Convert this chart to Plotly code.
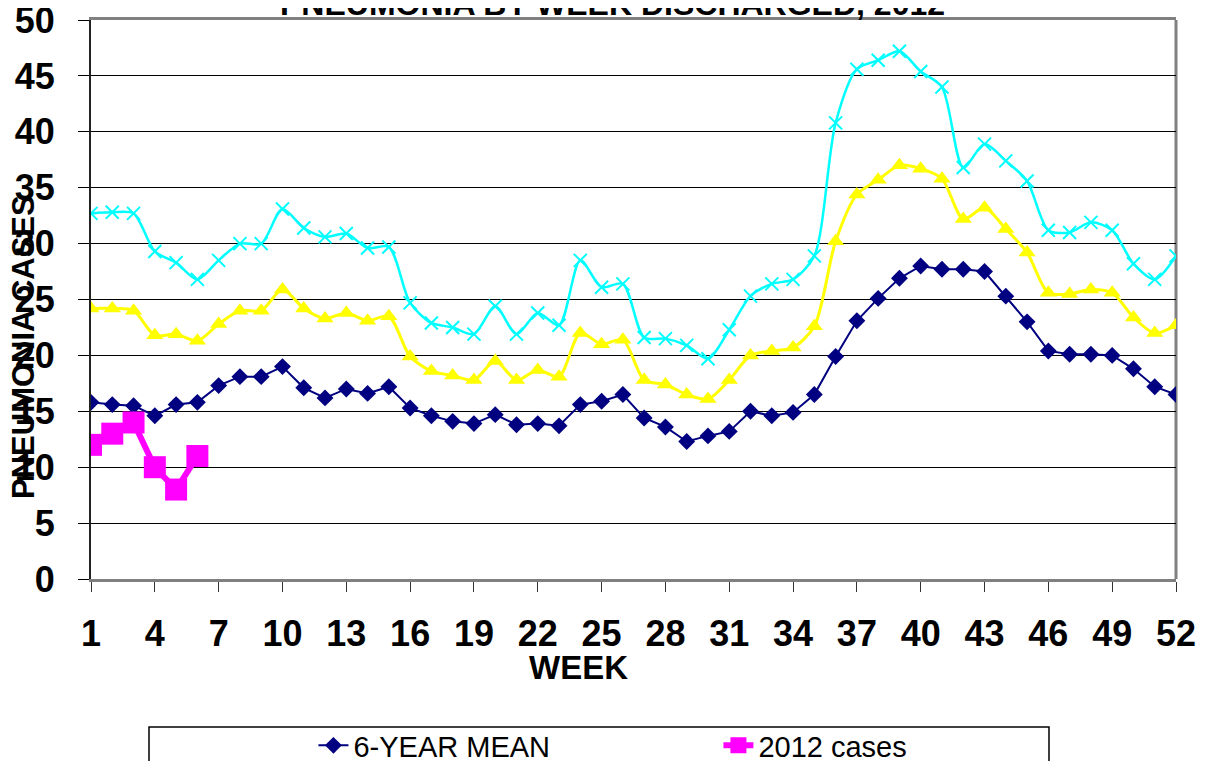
import plotly.graph_objects as go

weeks = list(range(1, 53))

mean_6yr = [15.8, 15.6, 15.5, 14.6, 15.6, 15.8, 17.3, 18.1, 18.1, 19.0,
            17.1, 16.2, 17.0, 16.6, 17.2, 15.3, 14.6, 14.1, 13.9, 14.7,
            13.8, 13.9, 13.7, 15.6, 15.9, 16.5, 14.4, 13.6, 12.3, 12.8,
            13.2, 15.0, 14.6, 14.9, 16.5, 19.9, 23.1, 25.1, 26.9, 28.0,
            27.7, 27.7, 27.5, 25.3, 23.0, 20.4, 20.1, 20.1, 20.0, 18.8,
            17.2, 16.5]

upper_1sd = [24.2, 24.2, 24.0, 21.8, 21.9, 21.3, 22.8, 24.0, 24.0, 25.9,
             24.2, 23.3, 23.8, 23.1, 23.5, 19.9, 18.6, 18.2, 17.8, 19.5,
             17.8, 18.7, 18.1, 22.0, 21.0, 21.4, 17.8, 17.4, 16.5, 16.1,
             17.8, 20.0, 20.4, 20.7, 22.6, 30.2, 34.4, 35.7, 37.0, 36.7,
             35.8, 32.2, 33.2, 31.3, 29.2, 25.6, 25.5, 25.9, 25.6, 23.4,
             22.0, 22.7]

upper_2sd = [32.7, 32.8, 32.7, 29.3, 28.3, 26.8, 28.5, 30.0, 30.0, 33.1,
             31.4, 30.6, 30.9, 29.6, 29.7, 24.7, 22.9, 22.5, 21.9, 24.4,
             21.9, 23.8, 22.7, 28.5, 26.1, 26.4, 21.6, 21.5, 20.9, 19.7,
             22.3, 25.3, 26.4, 26.8, 28.9, 40.8, 45.6, 46.4, 47.2, 45.4,
             44.0, 36.8, 38.9, 37.4, 35.6, 31.2, 31.0, 31.9, 31.2, 28.2,
             26.8, 28.9]

weeks_2012 = [1, 2, 3, 4, 5, 6]
cases_2012 = [12, 13, 14, 10, 8, 11]

x_tickvals = list(range(1, 53, 3))
y_tickvals = list(range(0, 51, 5))

FONT = "Liberation Sans, Arial, sans-serif"

# page offset of the plot div (default body margin)
OFF = 8
W, H = 1205 - OFF, 761 - OFF
L, R, T, B = 91 - OFF, 29, 20 - OFF, 182
PW = W - L - R   # plot width
PH = H - T - B   # plot height


def px(xp):
    return (xp - 91) / PW


def py(yp):
    return (579 - yp) / PH


fig = go.Figure()

fig.add_trace(go.Scatter(
    x=weeks, y=upper_2sd, mode="lines+markers", name="2 SD",
    line=dict(color="#00FFFF", width=2.5, shape="spline", smoothing=0.8),
    marker=dict(symbol="x-thin", size=13, line=dict(width=2, color="#00FFFF"), color="#00FFFF"),
    showlegend=False))

fig.add_trace(go.Scatter(
    x=weeks, y=upper_1sd, mode="lines+markers", name="1 SD",
    line=dict(color="#FFFF00", width=3, shape="spline", smoothing=0.8),
    marker=dict(symbol="triangle-up", size=15, color="#FFFF00"),
    showlegend=False))

fig.add_trace(go.Scatter(
    x=weeks, y=mean_6yr, mode="lines+markers", name="6-YEAR MEAN",
    line=dict(color="#000080", width=2),
    marker=dict(symbol="diamond", size=13, color="#000080")))

fig.add_trace(go.Scatter(
    x=weeks_2012, y=cases_2012, mode="lines+markers", name="2012 cases",
    line=dict(color="#FF00FF", width=6),
    marker=dict(symbol="square", size=22, color="#FF00FF")))

fig.update_layout(
    width=W, height=H,
    margin=dict(l=L, r=R, t=T, b=B, autoexpand=False),
    paper_bgcolor="white", plot_bgcolor="white",
    font=dict(family=FONT, color="black"),
    showlegend=True,
    legend=dict(orientation="h", x=0.205, xanchor="left",
                y=py(720), yanchor="top",
                font=dict(family=FONT, size=29, color="black"),
                bgcolor="rgba(0,0,0,0)", borderwidth=0,
                entrywidth=360, entrywidthmode="pixels",
                itemsizing="trace"),
)

fig.update_xaxes(
    range=[1, 52], tickvals=x_tickvals, ticks="outside", ticklen=10,
    tickcolor="#333333", tickwidth=1,
    tickfont=dict(family=FONT, size=36, color="black", weight="bold"),
    ticklabelstandoff=11, ticklabeloverflow="allow",
    showgrid=False, zeroline=False,
    showline=True, linecolor="#808080", linewidth=3, mirror=True)

fig.update_yaxes(
    range=[0, 50], tickvals=y_tickvals, ticks="outside", ticklen=11,
    tickcolor="#000000", tickwidth=1,
    tickfont=dict(family=FONT, size=36, color="black", weight="bold"),
    ticklabelstandoff=16, ticklabeloverflow="allow",
    showgrid=True, gridcolor="#000000", gridwidth=1, zeroline=False,
    showline=True, linecolor="#222222", linewidth=2)

# right frame edge
fig.add_shape(type="line", xref="paper", yref="paper", x0=1, x1=1, y0=0, y1=1,
              line=dict(color="#808080", width=3), layer="between")

# legend box
fig.add_shape(type="rect", xref="paper", yref="paper",
              x0=px(149), x1=px(1049), y0=py(790), y1=py(727),
              line=dict(color="black", width=1.5), fillcolor="rgba(0,0,0,0)")

# chart title (partly above the page top, as in the reference)
fig.add_annotation(text="PNEUMONIA BY WEEK DISCHARGED, 2012", xref="paper", yref="paper",
                   x=px(612), y=py(4), xanchor="center", yanchor="middle", showarrow=False,
                   font=dict(family=FONT, size=32, color="black", weight="bold"))

fig.add_annotation(text="WEEK", xref="paper", yref="paper",
                   x=px(578), y=py(667),
                   xanchor="center", yanchor="middle", showarrow=False,
                   font=dict(family=FONT, size=33, color="black", weight="bold"))

fig.add_annotation(text="PNEUMONIA CASES", xref="paper", yref="paper",
                   x=px(24), y=py(347),
                   xanchor="center", yanchor="middle", showarrow=False, textangle=-90,
                   font=dict(family=FONT, size=31, color="black", weight="bold"))

fig.write_html("out.html")
